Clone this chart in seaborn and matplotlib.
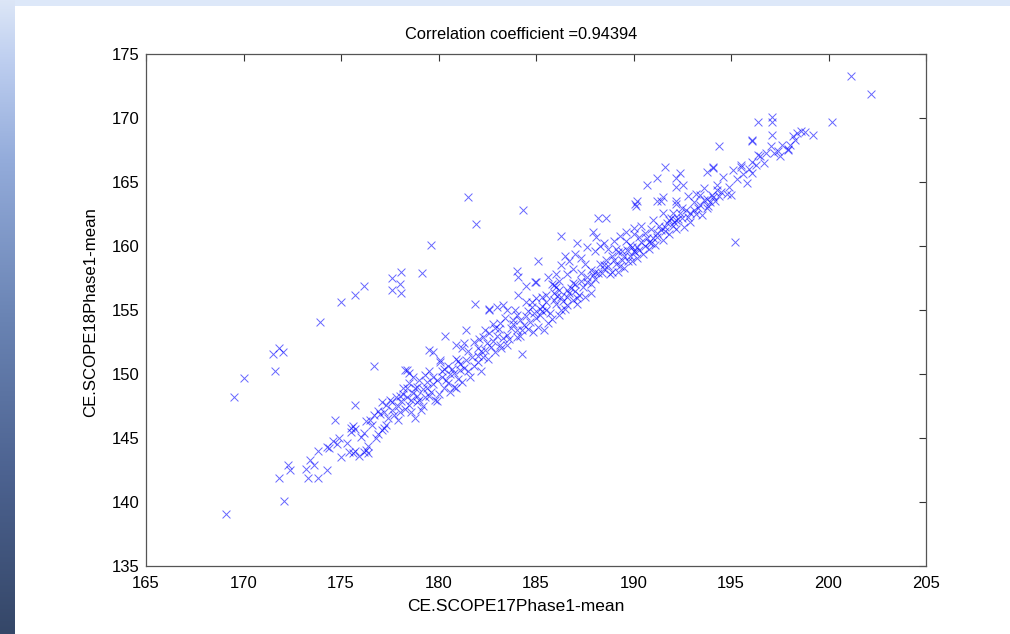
import numpy as np
import pandas as pd
import matplotlib
matplotlib.use("Agg")
import matplotlib.pyplot as plt
from matplotlib.colors import LinearSegmentedColormap
import seaborn as sns

# (SCOPE17 mean, SCOPE18 mean) pairs, grouped by region of the scatter
lower_tail = [
    (169.1, 139.1), (171.8, 141.9), (172.1, 140.1), (172.3, 142.9), (172.4, 142.5),
    (173.2, 142.6), (173.3, 141.9), (173.8, 141.9), (174.3, 142.5), (173.4, 143.3),
    (173.6, 142.9), (173.8, 144.0), (174.3, 144.3), (174.4, 144.2), (174.8, 144.5),
    (175.0, 143.5), (174.7, 146.4), (175.4, 143.9), (175.6, 143.8), (175.9, 143.6),
    (175.7, 144.0), (176.3, 144.1), (176.4, 143.8), (176.2, 143.9), (176.4, 144.4),
    (175.5, 145.5), (175.6, 145.9), (175.7, 145.7), (175.5, 145.8), (176.2, 145.4),
    (175.7, 147.6), (176.3, 146.3), (176.5, 146.4), (176.8, 145.0), (176.9, 145.3),
    (177.1, 145.6), (177.2, 145.8), (177.3, 146.0), (176.6, 146.0), (176.0, 145.1),
    (175.3, 144.6), (174.9, 145.0), (174.6, 144.8),
]

band_low = [
    (177.1, 147.8), (177.3, 147.6), (177.5, 148.0), (177.8, 148.2), (178.0, 148.3),
    (178.2, 148.4), (178.4, 148.2), (178.9, 147.8), (179.2, 147.5), (178.5, 149.3),
    (179.0, 149.5), (179.3, 149.9), (179.5, 150.2), (178.4, 150.3), (176.7, 146.8),
    (176.9, 147.1), (177.2, 147.0), (177.4, 146.6), (177.7, 146.8), (178.0, 147.0),
    (178.3, 147.3), (177.9, 146.4), (178.6, 147.0), (178.8, 146.6), (179.0, 148.0),
    (179.3, 148.2), (179.6, 148.6), (179.8, 148.0), (180.0, 148.4), (179.1, 147.2),
    (178.6, 148.0), (178.7, 148.5), (178.9, 148.3), (179.4, 148.9), (179.7, 149.2),
    (179.9, 149.5), (180.2, 149.8), (180.3, 148.9), (180.5, 149.3), (180.6, 150.0),
    (180.8, 149.0), (180.9, 148.9), (181.0, 149.6), (180.3, 150.4), (180.1, 150.9),
    (180.9, 151.2), (181.0, 151.0), (181.3, 150.5), (181.5, 150.2), (181.8, 150.6),
    (182.0, 150.9), (182.3, 151.3), (182.55, 151.2), (182.2, 150.2), (181.6, 149.8),
    (181.2, 149.4), (180.6, 148.6), (179.9, 147.9), (179.7, 151.7), (180.1, 151.1),
    (178.3, 150.3), (178.5, 150.1), (178.7, 149.8), (178.4, 148.9), (180.5, 150.6),
    (180.8, 150.1), (181.1, 150.3), (181.4, 151.1), (179.2, 148.8), (178.8, 148.9),
    (177.9, 147.5), (177.6, 147.2), (177.0, 146.9), (178.1, 147.9), (178.5, 147.6),
    (178.9, 149.0), (179.4, 149.4), (179.7, 149.8), (180.2, 150.2), (180.7, 150.4),
    (181.1, 150.8), (177.6, 147.8), (178.2, 148.9), (179.5, 148.3), (180.4, 149.5),
]

band_mid = [
    (181.8, 152.5), (182.0, 152.0), (182.2, 151.8), (182.5, 152.4), (182.7, 152.1),
    (182.9, 151.7), (183.15, 152.3), (183.5, 152.3), (183.3, 152.8), (183.0, 153.0),
    (183.15, 154.0), (183.5, 153.05), (183.7, 153.6), (184.0, 153.4), (184.2, 153.0),
    (184.4, 153.8), (184.6, 153.5), (184.86, 153.3), (185.1, 153.7), (185.4, 153.4),
    (185.6, 154.0), (182.9, 153.6), (182.6, 153.2), (182.3, 152.9), (181.5, 151.8),
    (181.2, 152.0), (184.0, 154.6), (183.8, 154.2), (183.3, 155.4), (182.6, 155.1),
    (183.5, 155.0), (184.1, 156.2), (184.5, 155.6), (184.8, 155.2), (185.0, 155.9),
    (185.3, 155.3), (185.7, 154.8), (186.0, 155.5), (186.3, 155.0), (186.6, 155.4),
    (186.9, 155.8), (187.1, 155.9), (187.1, 155.5), (186.5, 155.1), (186.2, 154.6),
    (185.8, 154.3), (185.2, 154.6), (184.6, 154.9), (183.9, 155.0), (184.5, 156.85),
    (184.95, 157.2), (185.9, 156.95), (186.6, 156.6), (186.9, 157.1), (187.3, 157.9),
    (185.5, 156.2), (186.2, 156.6), (186.0, 157.8), (185.6, 157.6), (187.8, 156.3),
    (187.5, 156.0), (187.8, 157.0), (188.0, 157.4), (188.2, 157.9), (186.7, 156.3),
    (187.4, 156.8), (182.0, 151.4), (182.4, 151.9), (182.8, 152.6), (183.2, 152.0),
    (183.6, 152.7), (184.0, 152.9), (184.3, 153.4), (184.7, 154.1), (185.0, 154.4),
    (185.3, 154.9), (185.5, 155.6), (185.9, 155.8), (186.1, 156.1), (186.4, 155.7),
    (186.8, 156.7), (187.0, 156.5), (187.3, 157.3), (187.6, 157.6), (188.0, 158.0),
    (186.5, 159.2), (186.3, 158.5), (186.7, 158.8), (186.9, 158.2), (186.6, 157.8),
    (186.2, 157.3), (185.8, 157.0), (187.5, 158.6), (187.3, 159.1), (185.1, 158.8),
    (181.3, 152.4), (181.7, 151.3), (182.1, 152.7), (182.4, 153.4), (182.8, 153.9),
    (183.1, 153.5), (183.4, 154.4), (183.8, 153.9), (184.2, 154.2), (184.5, 154.5),
    (184.9, 154.8), (185.2, 155.1), (185.5, 155.0), (185.9, 156.3), (186.3, 156.0),
    (186.6, 156.0), (187.0, 157.0), (187.2, 156.2), (187.6, 157.2), (187.9, 157.7),
    (186.0, 156.8), (185.3, 156.0), (184.8, 155.6),
]

band_high = [
    (187.9, 161.1), (188.1, 160.7), (187.1, 160.2), (187.0, 159.4), (187.8, 158.1),
    (188.3, 158.6), (188.6, 158.9), (188.9, 159.2), (189.2, 159.5), (188.5, 158.2),
    (188.8, 157.8), (189.1, 158.6), (189.4, 158.9), (189.65, 159.7), (189.8, 159.2),
    (190.0, 159.6), (190.2, 159.95), (190.4, 160.3), (190.7, 160.6), (190.9, 160.2),
    (191.2, 161.0), (191.4, 161.25), (191.7, 161.8), (191.9, 162.2), (192.2, 162.0),
    (192.4, 162.55), (192.7, 162.8), (193.1, 162.8), (193.4, 163.2), (193.75, 162.95),
    (193.5, 162.4), (192.9, 161.9), (192.6, 161.5), (192.2, 161.3), (191.8, 160.9),
    (191.5, 160.5), (191.1, 160.1), (190.8, 159.8), (190.5, 159.4), (190.2, 159.1),
    (189.9, 158.8), (189.5, 158.3), (189.2, 158.0), (188.2, 162.2), (188.6, 162.2),
    (190.1, 163.3), (191.4, 163.5), (191.5, 163.85), (192.2, 163.3), (193.2, 164.1),
    (194.1, 163.85), (194.8, 164.1), (188.0, 159.6), (188.5, 160.2), (189.0, 160.4),
    (189.3, 160.8), (189.6, 161.1), (190.0, 161.4), (190.4, 161.6), (190.6, 161.0),
    (191.0, 162.0), (190.2, 163.5), (190.15, 163.1), (191.2, 163.5), (191.5, 162.6),
    (192.2, 163.5), (192.5, 163.0), (192.0, 162.6), (189.8, 160.1), (189.4, 159.6),
    (188.7, 159.8), (188.3, 160.0), (187.6, 159.9), (188.4, 157.9), (188.7, 158.4),
    (189.0, 158.9), (189.3, 158.4), (189.7, 158.8), (190.1, 159.5), (190.3, 160.7),
    (190.6, 160.0), (191.0, 160.6), (191.3, 161.6), (191.6, 161.2), (192.0, 161.6),
    (192.3, 162.1), (192.8, 162.3), (193.2, 162.5), (193.8, 163.1), (194.2, 163.5),
    (194.5, 164.2), (194.4, 163.9), (193.9, 163.4), (193.1, 163.4), (192.8, 163.9),
    (193.6, 164.5), (188.5, 158.5), (188.9, 158.0), (189.5, 159.2), (189.9, 159.9),
    (190.3, 159.7), (190.8, 160.3), (191.2, 160.7), (191.6, 161.5), (192.1, 161.9),
    (192.5, 162.2), (192.9, 162.6), (193.3, 163.0), (193.6, 163.6), (194.0, 164.0),
    (194.3, 164.4), (190.0, 160.9), (190.9, 161.3), (191.8, 162.0), (189.6, 160.4),
    (189.1, 159.8),
]

upper_end = [
    (192.4, 165.7), (192.2, 165.3), (192.55, 164.8), (192.2, 164.6), (191.2, 165.3),
    (190.7, 164.8), (191.6, 166.2), (193.4, 164.0), (193.75, 165.8), (194.1, 166.2),
    (194.3, 164.8), (194.6, 165.4), (195.1, 165.9), (195.5, 166.3), (195.8, 164.9),
    (196.1, 166.6), (196.5, 167.0), (197.2, 167.24), (197.9, 167.5), (197.05, 167.8),
    (197.9, 167.6), (196.4, 167.1), (196.7, 166.5), (194.1, 166.1), (195.5, 166.2),
    (196.1, 165.7), (195.0, 164.0), (193.75, 163.7), (194.4, 167.8), (196.1, 168.2),
    (197.1, 168.7), (198.4, 168.8), (198.6, 169.0), (198.2, 168.6), (199.2, 168.7),
    (196.4, 169.7), (197.1, 170.1), (197.1, 169.7), (200.2, 169.7), (201.15, 173.3),
    (202.2, 171.9), (196.1, 168.3), (197.4, 167.4), (198.0, 167.9), (195.3, 165.2),
    (194.9, 164.6), (195.6, 165.6), (195.9, 166.0), (196.3, 166.3), (196.8, 167.3),
    (197.5, 167.0), (198.3, 168.3), (198.8, 168.9), (197.6, 167.9),
]

off_band = [
    (169.5, 148.2), (170.0, 149.7), (171.6, 150.2), (171.5, 151.6), (171.8, 152.0),
    (172.0, 151.7), (173.9, 154.1), (175.0, 155.6), (175.7, 156.2), (176.2, 156.9),
    (176.7, 150.6), (177.6, 157.5), (178.1, 158.0), (178.0, 157.0), (177.6, 156.6),
    (178.1, 156.3), (179.15, 157.9), (179.6, 160.1), (179.5, 151.9), (180.35, 153.0),
    (180.9, 152.3), (181.4, 153.4), (181.85, 155.5), (182.6, 155.0), (183.0, 155.2),
    (184.27, 151.6), (184.0, 158.05), (184.1, 157.55), (185.0, 157.2), (186.3, 160.8),
    (184.35, 162.8), (181.5, 163.8), (181.9, 161.7), (195.2, 160.3),
]

title_text = "Correlation coefficient =0.94394"
x_label = "CE.SCOPE17Phase1-mean"
y_label = "CE.SCOPE18Phase1-mean"
x_ticks = [165, 170, 175, 180, 185, 190, 195, 200, 205]
y_ticks = [135, 140, 145, 150, 155, 160, 165, 170, 175]

points = lower_tail + band_low + band_mid + band_high + upper_end + off_band
df = pd.DataFrame(points, columns=["scope17", "scope18"])

sns.set_theme(style="white")
plt.rcParams["font.family"] = ["Liberation Sans", "DejaVu Sans"]

fig = plt.figure(figsize=(10.10, 6.34), dpi=100)
fig.patch.set_facecolor("white")

# slide-style backdrop: thin light band on top, shaded strip on the left
top_band = fig.add_axes([0, 1 - 6 / 634, 1, 6 / 634])
top_band.set_axis_off()
top_band.add_patch(plt.Rectangle((0, 0), 1, 1, color="#dde8f9", transform=top_band.transAxes))

strip = fig.add_axes([0, 0, 15 / 1010, 1])
strip_cmap = LinearSegmentedColormap.from_list(
    "strip",
    [(0.0, "#dce6f7"), (0.1, "#bccdef"), (0.25, "#94acdb"),
     (0.5, "#6a84b4"), (0.75, "#4c6290"), (1.0, "#354768")],
)
strip.imshow(np.linspace(0, 1, 256).reshape(-1, 1), aspect="auto", cmap=strip_cmap,
             extent=[0, 1, 0, 1], origin="upper")
strip.set_axis_off()

ax = fig.add_axes([146 / 1010, 68 / 634, 780 / 1010, 512 / 634])
sns.scatterplot(data=df, x="scope17", y="scope18", ax=ax, marker="x",
                color="#0000ff", s=32, linewidth=0.7, alpha=0.6, legend=False)

ax.set_xlim(165, 205)
ax.set_ylim(135, 175)
ax.set_xticks(x_ticks)
ax.set_yticks(y_ticks)
ax.tick_params(direction="in", length=5, width=0.8, color="#333333",
               top=True, right=True, labelsize=12, labelcolor="black")
ax.tick_params(axis="x", pad=7)
ax.tick_params(axis="y", pad=5)
for spine in ax.spines.values():
    spine.set_visible(True)
    spine.set_color("#555555")
    spine.set_linewidth(0.9)

ax.set_title(title_text, fontsize=11.8, pad=11, color="black", x=0.481)
ax.set_xlabel(x_label, fontsize=12.5, color="black")
ax.set_ylabel(y_label, fontsize=12.1, color="black")
ax.xaxis.set_label_coords(0.474, -0.064)
ax.yaxis.set_label_coords(-0.062, 0.496)

fig.savefig("out.png", dpi=100)
